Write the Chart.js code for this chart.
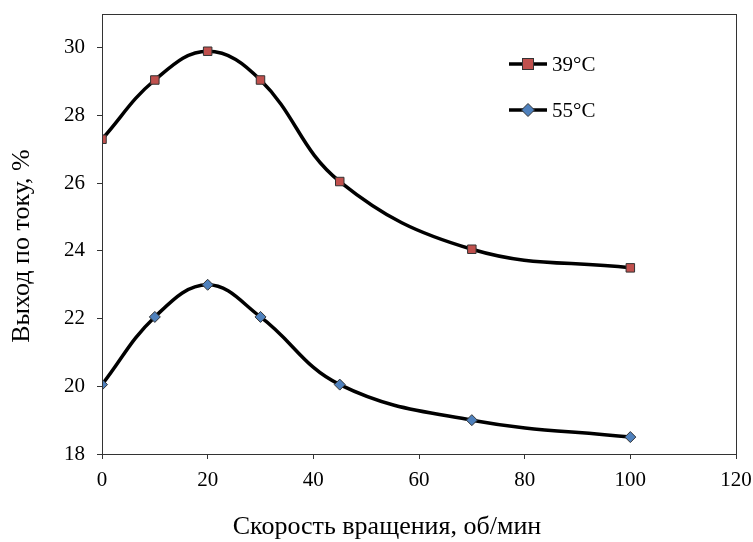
<!DOCTYPE html>
<html>
<head>
<meta charset="utf-8">
<script src="https://cdn.jsdelivr.net/npm/chart.js@4"></script>
<style>
  html, body { margin: 0; padding: 0; background: #fff; }
  #wrap { width: 753px; height: 542px; }
</style>
</head>
<body>
<div id="wrap"><canvas id="grafica" width="753" height="542"></canvas></div>
<script>
const $grafica = document.querySelector("#grafica");

// скорость вращения, об/мин
const skorost = [0, 10, 20, 30, 45, 70, 100];
const vyhod39 = [27.3, 29.05, 29.9, 29.05, 26.05, 24.05, 23.5];
const vyhod55 = [20.05, 22.05, 23.0, 22.05, 20.05, 19.0, 18.5];
const etiquetas = ["39°C", "55°C"];
const ticksX = [0, 20, 40, 60, 80, 100, 120];
const ticksY = [18, 20, 22, 24, 26, 28, 30];
const tituloX = 'Скорость вращения, об/мин';
const tituloY = 'Выход по току, %';

const fuente = "'Liberation Serif', 'Times New Roman', serif";
const colorEje = '#333333';

const puntos = (xs, ys) => xs.map((x, i) => ({ x: x, y: ys[i] }));

// marco del área, títulos de ejes y leyenda dibujada a mano (estilo Excel)
const marcoYLeyenda = {
    id: 'marcoYLeyenda',
    afterDraw(chart) {
        const ctx = chart.ctx;
        const a = chart.chartArea;
        ctx.save();
        ctx.strokeStyle = colorEje;
        ctx.lineWidth = 1;
        ctx.strokeRect(Math.round(a.left) + 0.5, Math.round(a.top) + 0.5,
            Math.round(a.right - a.left), Math.round(a.bottom - a.top));

        // títulos
        ctx.fillStyle = '#000';
        ctx.font = "26px " + fuente;
        ctx.textAlign = 'center';
        ctx.textBaseline = 'middle';
        ctx.fillText(tituloX, 387, 527);
        ctx.save();
        ctx.translate(22, 246);
        ctx.rotate(-Math.PI / 2);
        ctx.fillText(tituloY, 0, 0);
        ctx.restore();

        const items = [
            { y: 64, style: 'rect', fill: '#C0504D' },
            { y: 110, style: 'rectRot', fill: '#4F81BD' },
        ];
        items.forEach((it, i) => {
            ctx.strokeStyle = '#000';
            ctx.lineWidth = 3.5;
            ctx.beginPath();
            ctx.moveTo(509, it.y);
            ctx.lineTo(547, it.y);
            ctx.stroke();
            ctx.fillStyle = it.fill;
            ctx.strokeStyle = colorEje;
            ctx.lineWidth = 1;
            if (it.style === 'rect') {
                ctx.fillRect(522.5, it.y - 5.5, 11, 11);
                ctx.strokeRect(522.5, it.y - 5.5, 11, 11);
            } else {
                ctx.beginPath();
                ctx.moveTo(528, it.y - 6.5);
                ctx.lineTo(534.5, it.y);
                ctx.lineTo(528, it.y + 6.5);
                ctx.lineTo(521.5, it.y);
                ctx.closePath();
                ctx.fill();
                ctx.stroke();
            }
            ctx.fillStyle = '#000';
            ctx.font = "21px " + fuente;
            ctx.textBaseline = 'middle';
            ctx.textAlign = 'left';
            ctx.fillText(etiquetas[i], 552, it.y + 1);
        });
        ctx.restore();
    }
};

new Chart($grafica, {
    type: 'line',
    data: {
        datasets: [
            {
                label: etiquetas[0],
                data: puntos(skorost, vyhod39),
                borderColor: '#000',
                borderWidth: 3.5,
                tension: 0.4,
                pointStyle: 'rect',
                pointRadius: 6,
                pointBackgroundColor: '#C0504D',
                pointBorderColor: colorEje,
                pointBorderWidth: 1,
            },
            {
                label: etiquetas[1],
                data: puntos(skorost, vyhod55),
                borderColor: '#000',
                borderWidth: 3.5,
                tension: 0.4,
                pointStyle: 'rectRot',
                pointRadius: 5.5,
                pointBackgroundColor: '#4F81BD',
                pointBorderColor: colorEje,
                pointBorderWidth: 1,
            },
        ]
    },
    options: {
        responsive: false,
        animation: false,
        layout: { padding: { top: 14, right: 17, left: 0, bottom: 0 } },
        plugins: {
            legend: { display: false },
            tooltip: { enabled: false },
        },
        scales: {
            x: {
                type: 'linear',
                min: 0,
                max: 120,
                afterBuildTicks: (s) => { s.ticks = ticksX.map(v => ({ value: v })); },
                afterFit: (s) => { s.height = 88; s.paddingLeft = 0; s.paddingRight = 0; },
                grid: { drawOnChartArea: false, drawTicks: true, tickLength: 5, color: colorEje },
                border: { display: true, color: colorEje },
                ticks: { color: '#000', padding: 9, font: { family: fuente, size: 21 } },
            },
            y: {
                min: 18,
                max: 31,
                afterBuildTicks: (s) => { s.ticks = ticksY.map(v => ({ value: v })); },
                afterFit: (s) => { s.width = 102; s.paddingTop = 0; s.paddingBottom = 0; },
                grid: { drawOnChartArea: false, drawTicks: true, tickLength: 5, color: colorEje },
                border: { display: true, color: colorEje },
                ticks: { color: '#000', padding: 12, font: { family: fuente, size: 21 } },
            },
        },
    },
    plugins: [marcoYLeyenda],
});
</script>
</body>
</html>
